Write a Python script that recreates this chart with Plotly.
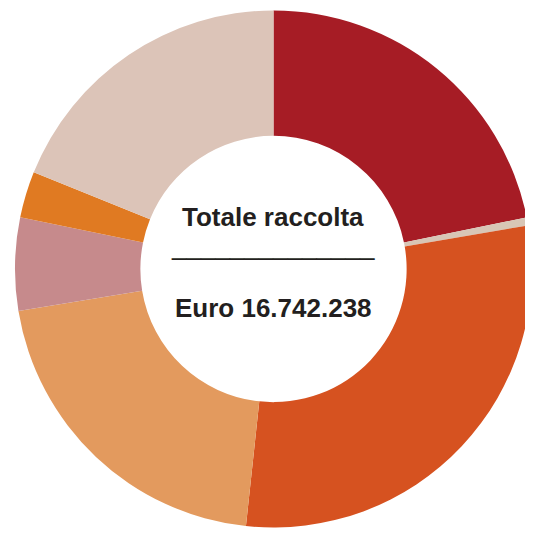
import plotly.graph_objects as go

categories = ["Voce 1", "Voce 2", "Voce 3", "Voce 4", "Voce 5", "Voce 6", "Voce 7"]
values = [21.8, 0.5, 29.4, 20.7, 5.8, 2.9, 18.9]
colors = ["#A61C25", "#D8C6B6", "#D65220", "#E39A5E", "#C68A8C", "#E07A22", "#DCC4B8"]

center_title = "Totale raccolta"
center_rule = "_" * 14
center_value = "Euro 16.742.238"

fig = go.Figure(go.Pie(
    labels=categories,
    values=values,
    marker=dict(colors=colors, line=dict(width=0)),
    hole=0.515,
    sort=False,
    direction="clockwise",
    rotation=0,
    textinfo="none",
    showlegend=False,
))

font = dict(family="Liberation Sans, Arial, sans-serif", color="#231F20")
fig.add_annotation(text="<b>" + center_title + "</b>", x=273, y=533 - 217,
                   xref="x", yref="y", showarrow=False, font=dict(size=26, **font))
fig.add_annotation(text=center_rule, x=273, y=533 - 246,
                   xref="x", yref="y", showarrow=False, font=dict(size=26, **font))
fig.add_annotation(text="<b>" + center_value + "</b>", x=273, y=533 - 308,
                   xref="x", yref="y", showarrow=False, font=dict(size=26, **font))

fig.update_layout(
    width=533, height=533,
    margin=dict(l=7, r=9, t=1, b=12),
    paper_bgcolor="white", plot_bgcolor="rgba(0,0,0,0)",
    xaxis=dict(range=[15, 532], visible=False, fixedrange=True, domain=[0, 1]),
    yaxis=dict(range=[4, 524], visible=False, fixedrange=True, domain=[0, 1]),
)
fig.write_html("out.html")
